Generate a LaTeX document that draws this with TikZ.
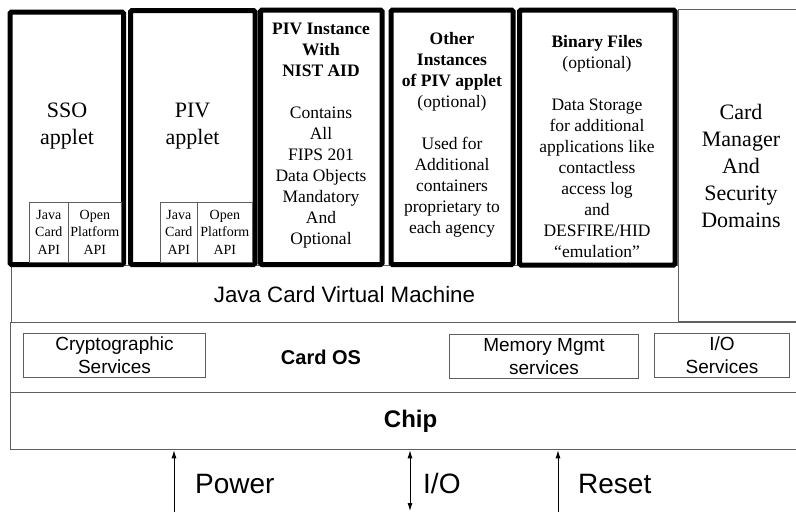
\documentclass[tikz,border=0pt]{standalone}
\usepackage{fontspec}
\setmainfont{Liberation Serif}
\setsansfont{Liberation Sans}
\usetikzlibrary{arrows.meta}
\definecolor{edgegray}{RGB}{95,95,95}
\tikzset{
  layer/.style={draw=edgegray, line width=1.3pt, fill=white, inner sep=0pt, anchor=north west},
  applet/.style={draw=black, line width=5pt, fill=white, rounded corners=1.5pt},
  apibox/.style={draw=edgegray, line width=0.7pt, fill=white, inner sep=0pt, anchor=north west,
    align=center, minimum height=60pt, font=\fontsize{14}{17.5}\selectfont},
  svcbox/.style={draw=edgegray, line width=1pt, fill=white, inner sep=0pt, anchor=north west,
    align=center, minimum height=44pt, font=\sffamily\fontsize{19}{23}\selectfont},
  bigtxt/.style={align=center, inner sep=0pt, font=\fontsize{22}{27}\selectfont},
  smalltxt/.style={align=center, inner sep=0pt, font=\fontsize{17.5}{21}\selectfont},
  sigtxt/.style={anchor=base west, inner sep=0pt, font=\sffamily\fontsize{28}{32}\selectfont},
  sig/.style={line width=0.9pt, -{Latex[length=8pt,width=5pt]}}
}
\begin{document}
\begin{tikzpicture}[x=1pt,y=-1pt]
\useasboundingbox (0,0) rectangle (796,512);
% layers of the card
\node[layer, minimum width=800pt, minimum height=57pt,
  font=\sffamily\bfseries\fontsize{24}{28}\selectfont] (chip) at (10,392) {Chip};
\node[layer, minimum width=800pt, minimum height=70pt] (cardos) at (10,322) {};
\node[inner sep=0pt, font=\sffamily\bfseries\fontsize{20}{24}\selectfont] (oslbl) at (321,357) {Card OS};
\node[svcbox, minimum width=182pt] (crypto) at (23,333) {Cryptographic\\Services};
\node[svcbox, minimum width=189pt] (memmgmt) at (449,334) {Memory Mgmt\\services};
\node[svcbox, minimum width=135pt] (iosvc) at (654,333) {I/O\\Services};

\node[layer, minimum width=667pt, minimum height=57.5pt] (jcvm) at (11,264.5) {};
\node[inner sep=0pt, font=\sffamily\fontsize{22.3}{26}\selectfont] (jcvmlbl) at (344.5,295) {Java Card Virtual Machine};
\node[layer, minimum width=122pt, minimum height=312pt] (cardmgr) at (678,9) {};
\node[bigtxt] (cardmgrlbl) at (741,165.5) {Card\\Manager\\And\\Security\\Domains};

% applets
\draw[applet] (10,12) rectangle (123.5,264.5);
\draw[applet] (130.5,10.5) rectangle (255,264.5);
\draw[applet] (260.5,10) rectangle (382,264.5);
\draw[applet] (391,10) rectangle (513,264.5);
\draw[applet] (519.5,10) rectangle (675,265);

\node[bigtxt] (ssolbl) at (67,126.5) {SSO\\applet};
\node[apibox, minimum width=39pt] (ssojc) at (29,202) {Java\\Card\\API};
\node[apibox, minimum width=53pt] (ssoop) at (68,202) {Open\\Platform\\API};

\node[bigtxt] (pivlbl) at (192.5,126.5) {PIV\\applet};
\node[apibox, minimum width=37pt] (pivjc) at (160,202) {Java\\Card\\API};
\node[apibox, minimum width=55pt] (pivop) at (197,202) {Open\\Platform\\API};

\node[smalltxt] (nistlbl) at (321,136) {\textbf{PIV Instance}\\\textbf{With}\\\textbf{NIST AID}\\[21pt]Contains\\All\\FIPS 201\\Data Objects\\Mandatory\\And\\Optional};
\node[smalltxt] (otherlbl) at (452,135) {\textbf{Other}\\\textbf{Instances}\\\textbf{of PIV applet}\\(optional)\\[21pt]Used for\\Additional\\containers\\proprietary to\\each agency};
\node[smalltxt] (binlbl) at (597,146.5) {\textbf{Binary Files}\\(optional)\\[21pt]Data Storage\\for additional\\applications like\\contactless\\access log\\and\\DESFIRE/HID\\“emulation”};

% signals into the chip
\coordinate (pwin) at (174,512);
\coordinate (ioin) at (410,511);
\coordinate (rsin) at (558,512);
\draw[sig] (pwin) -- (pwin |- chip.south);
\draw[sig, {Latex[length=8pt,width=5pt]}-{Latex[length=8pt,width=5pt]}] (ioin) -- (ioin |- chip.south);
\draw[sig] (rsin) -- (rsin |- chip.south);
\node[sigtxt] (pwlbl) at (195,493) {Power};
\node[sigtxt] (iolbl) at (423,493) {I/O};
\node[sigtxt] (rslbl) at (578,493) {Reset};
\end{tikzpicture}
\end{document}
